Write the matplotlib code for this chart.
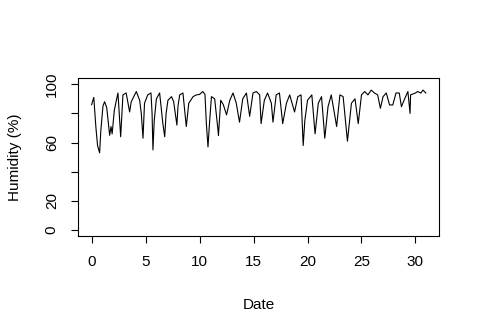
import matplotlib
matplotlib.use("Agg")
import matplotlib.pyplot as plt

plt.rcParams['font.family'] = ['Liberation Sans', 'DejaVu Sans']

# readings (day, relative humidity %)
day = [0.0, 0.2, 0.4, 0.55, 0.74, 0.85, 1.05, 1.2, 1.4, 1.67, 1.8, 1.9, 2.1, 2.29,
       2.44, 2.69, 2.9, 3.2, 3.52, 3.67, 4.14, 4.45, 4.6, 4.76, 4.9, 5.2, 5.5, 5.6,
       5.68, 5.8, 6.0, 6.3, 6.6, 6.77, 6.9, 7.07, 7.4, 7.6, 7.9, 8.0, 8.16, 8.46,
       8.77, 9.0, 9.4, 9.7, 10.0, 10.3, 10.5, 10.63, 10.78, 10.9, 11.1, 11.4, 11.7,
       11.75, 11.96, 12.2, 12.5, 12.8, 13.1, 13.4, 13.7, 14.0, 14.34, 14.64, 14.95,
       15.26, 15.57, 15.7, 16.0, 16.3, 16.65, 16.8, 17.1, 17.4, 17.7, 18.05, 18.35,
       18.8, 19.1, 19.4, 19.6, 19.75, 20.0, 20.4, 20.7, 21.0, 21.3, 21.6, 21.9,
       22.2, 22.7, 23.0, 23.3, 23.7, 24.07, 24.4, 24.7, 25.0, 25.3, 25.6, 25.9,
       26.2, 26.5, 26.75, 27.0, 27.3, 27.6, 27.9, 28.2, 28.5, 28.7, 29.0, 29.3,
       29.5, 29.55, 30.0, 30.2, 30.5, 30.7, 30.96]
humidity = [86, 91, 70, 58, 53, 68, 85, 88, 84, 65, 71, 66, 82, 89,
            94, 64, 92.7, 94, 81, 88, 95, 89, 80, 63, 87, 92.7, 94, 80,
            55, 75, 90, 94, 73, 64, 80, 89, 91.5, 88, 72, 85, 92.7, 94,
            71, 87, 91.5, 92.7, 93, 95, 93, 73, 57, 71, 91.5, 90, 69,
            65, 89, 86, 79, 89, 94, 87, 74, 90, 94, 78, 94,
            95, 92.7, 73, 89, 94, 87, 74, 92.7, 94, 73, 87, 92.7,
            81, 91.5, 92.7, 58, 75, 89, 92.7, 66, 87, 91.5, 63, 84.6,
            92.7, 71, 92.7, 91.5, 61, 87, 90, 73, 92.7, 95, 92.7, 96,
            94, 92.7, 83.5, 91.5, 94, 85.8, 85.8, 94, 94, 84.6, 90, 95,
            80, 92.7, 94, 95, 94, 96, 94]

y_ticks = [0, 20, 40, 60, 80, 100]
y_labels = ['0', '20', '', '60', '', '100']
x_ticks = [0, 5, 10, 15, 20, 25, 30]

fig = plt.figure(figsize=(4.8, 3.35), dpi=100)
ax = fig.add_axes([0.163, 0.2955, 0.752, 0.4705])
ax.plot(day, humidity, color='black', lw=0.8)

ax.set_xlim(-1.24, 32.2)
ax.set_ylim(-4, 104)
ax.set_xticks(x_ticks)
ax.set_yticks(y_ticks)
ax.set_yticklabels(y_labels, rotation=90, va='center')
ax.tick_params(length=5, width=0.8, labelsize=11, pad=9)
for s in ax.spines.values():
    s.set_linewidth(0.8)

ax.set_xlabel('Date', fontsize=11)
ax.xaxis.set_label_coords(0.5, -0.438)
ax.xaxis.label.set_va('center')
ax.set_ylabel('Humidity (%)', fontsize=11)
ax.yaxis.set_label_coords(-0.1755, 0.5)
ax.yaxis.label.set_va('center')

fig.savefig('out.png', dpi=100)
